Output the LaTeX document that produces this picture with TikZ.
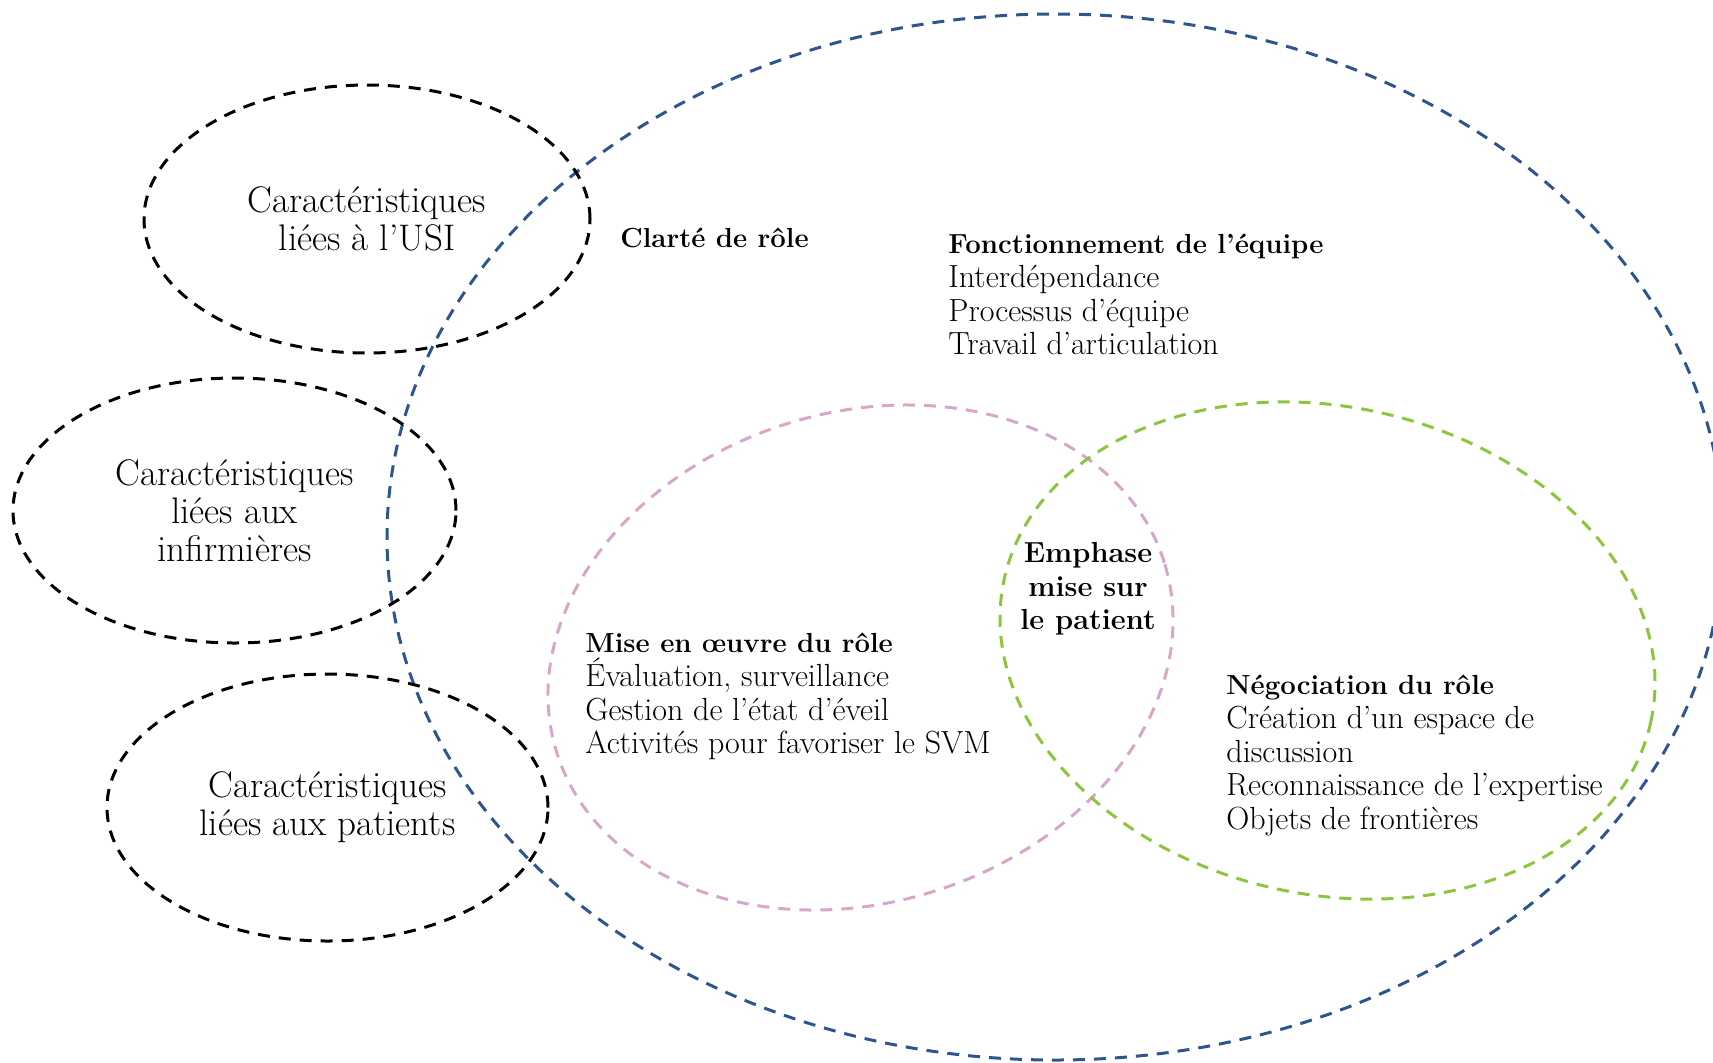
\documentclass[tikz,border=0pt]{standalone}
\usepackage{tikz}
\usetikzlibrary{shapes.geometric}
\definecolor{bleu}{HTML}{2E5590}
\definecolor{rose}{HTML}{D8A6CB}
\definecolor{vert}{HTML}{8CC63F}
\newcommand{\entete}[1]{{\fontsize{13.8}{16.85}\selectfont\bfseries #1}}
\tikzset{
	zone/.style={draw, ellipse, line width=1.5pt, dash pattern=on 6pt off 4.5pt, inner sep=0pt},
	carac/.style={zone, draw=black, align=center, font=\fontsize{18.5}{19}\selectfont},
	bloc/.style={anchor=west, align=left, inner sep=0pt, font=\fontsize{16}{16.85}\selectfont},
	titre/.style={bloc, font=\fontsize{14.5}{16.85}\selectfont\bfseries},
}

\begin{document}
\begin{tikzpicture}[x=0.5pt, y=-0.5pt]
	\useasboundingbox (0,0) rectangle (1713,1062);
	\clip (0,0) rectangle (1713,1062);
	\node[zone, draw=bleu, minimum width=668pt, minimum height=523pt] at (1055,537) (fonct) {};
	\node[zone, draw=rose, minimum width=318.3pt, minimum height=245.1pt, rotate=17.35] at (860.5,657.5) (oeuvre) {};
	\node[zone, draw=vert, minimum width=331.1pt, minimum height=243.7pt, rotate=-12.6] at (1327.5,650.5) (nego) {};
	\node[carac, minimum width=223pt, minimum height=134pt] at (367,219) (usi) {Caractéristiques\\liées à l’USI};
	\node[carac, minimum width=221.5pt, minimum height=132.5pt] at (234.5,510.5) (inf) {Caractéristiques\\liées aux\\infirmières};
	\node[carac, minimum width=220.5pt, minimum height=133.5pt] at (327.5,807.5) (pat) {Caractéristiques\\liées aux patients};
	\node[bloc] at (620,238) (clarte) {\entete{Clarté de rôle}};
	\node[bloc] at (948,294.6) (lfonct) {\entete{Fonctionnement de l’équipe}\\Interdépendance\\Processus d’équipe\\Travail d’articulation};
	\node[bloc] at (585,696.5) (loeuvre) {\entete{Mise en œuvre du rôle}\\Évaluation, surveillance\\Gestion de l’état d’éveil\\Activités pour favoriser le SVM};
	\node[titre, anchor=center, align=center] at (1088,589) (emph) {Emphase\\mise sur\\le patient};
	\node[bloc] at (1226,755.6) (lnego) {\entete{Négociation du rôle}\\Création d’un espace de\\discussion\\Reconnaissance de l’expertise\\Objets de frontières};
\end{tikzpicture}
\end{document}
